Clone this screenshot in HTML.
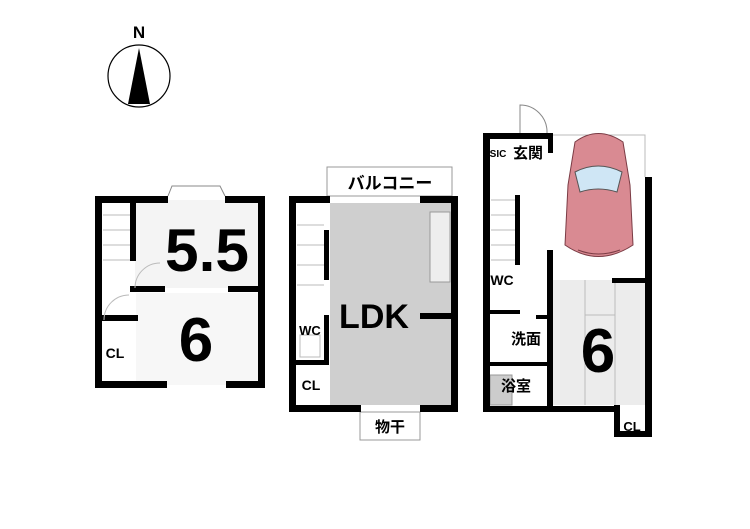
<!DOCTYPE html><html><head><style>body{margin:0;background:#fff}svg{display:block}</style></head><body>
<svg width="750" height="529" viewBox="0 0 750 529" xmlns="http://www.w3.org/2000/svg" font-family="Liberation Sans, Noto Sans CJK JP, sans-serif">
<rect width="750" height="529" fill="#fff"/>
<!-- compass -->
<text x="139" y="38" font-size="17" font-weight="bold" text-anchor="middle">N</text>
<circle cx="139" cy="76" r="31" fill="none" stroke="#000" stroke-width="1.2"/>
<polygon points="139,48 128,104 150,104" fill="#000"/>
<!-- LEFT PLAN -->
<path d="M168,196 L172,186 L220,186 L225,196" fill="#fff" stroke="#888"/>
<rect x="135" y="200" width="127" height="88" fill="#f4f4f4"/>
<rect x="136" y="293" width="126" height="92" fill="#f7f7f7"/>
<g fill="#000">
<rect x="95" y="196" width="7" height="192"/>
<rect x="258" y="196" width="7" height="192"/>
<rect x="95" y="196" width="73" height="7"/>
<rect x="225" y="196" width="40" height="7"/>
<rect x="95" y="381" width="72" height="7"/>
<rect x="226" y="381" width="39" height="7"/>
<rect x="130" y="203" width="6" height="58"/>
<rect x="130" y="286" width="35" height="6"/>
<rect x="228" y="286" width="37" height="6"/>
<rect x="95" y="315" width="43" height="6"/>
</g>
<g stroke="#bbb" fill="none"><path d="M103,215h27M103,230h27M103,245h27M103,260h27"/><path d="M135,288 A25,25 0 0 1 160,263"/><path d="M104,320 A25,25 0 0 1 129,295"/></g>
<text x="207" y="271" font-size="60" font-weight="bold" text-anchor="middle" textLength="84" lengthAdjust="spacingAndGlyphs">5.5</text>
<text x="196" y="361" font-size="62" font-weight="bold" text-anchor="middle">6</text>
<text x="115" y="358" font-size="14" font-weight="bold" text-anchor="middle">CL</text>
<!-- MIDDLE PLAN -->
<rect x="327" y="167" width="125" height="29" fill="#fff" stroke="#999"/>
<text x="390" y="189" font-size="17" font-weight="bold" text-anchor="middle">バルコニー</text>
<rect x="330" y="203" width="121" height="202" fill="#cfcfcf"/>
<rect x="430" y="212" width="20" height="70" fill="#eee" stroke="#999"/>
<rect x="360" y="412" width="60" height="28" fill="#fff" stroke="#999"/>
<text x="390" y="432" font-size="15" font-weight="bold" text-anchor="middle">物干</text>
<g fill="#000">
<rect x="289" y="196" width="7" height="216"/>
<rect x="451" y="196" width="7" height="216"/>
<rect x="289" y="196" width="41" height="7"/>
<rect x="420" y="196" width="38" height="7"/>
<rect x="289" y="405" width="72" height="7"/>
<rect x="420" y="405" width="38" height="7"/>
<rect x="324" y="230" width="5" height="50"/>
<rect x="324" y="315" width="5" height="48"/>
<rect x="289" y="360" width="40" height="5"/>
<rect x="420" y="313" width="31" height="6"/>
</g>
<g stroke="#bbb" fill="none"><path d="M297,225h27M297,245h27M297,265h27M297,285h27"/><path d="M300,335h20v22h-20z"/></g>
<text x="374" y="328" font-size="34" font-weight="bold" text-anchor="middle">LDK</text>
<text x="310" y="335" font-size="13" font-weight="bold" text-anchor="middle">WC</text>
<text x="311" y="390" font-size="14" font-weight="bold" text-anchor="middle">CL</text>
<!-- RIGHT PLAN -->
<path d="M520,133 L520,105 A27,27 0 0 1 547,133" fill="none" stroke="#888"/>
<polyline points="553,135 645,135 645,177" fill="none" stroke="#bbb"/>
<rect x="553" y="280" width="92" height="125" fill="#ececec"/>
<path d="M585,280v125M585,315h30M615,280v125" stroke="#bbb" fill="none"/>
<rect x="490" y="375" width="22" height="30" fill="#ccc" stroke="#999"/>
<g fill="#000">
<rect x="483" y="133" width="7" height="279"/>
<rect x="483" y="133" width="70" height="6"/>
<rect x="548" y="133" width="5" height="20"/>
<rect x="547" y="250" width="6" height="25"/>
<rect x="547" y="275" width="6" height="137"/>
<rect x="483" y="406" width="131" height="6"/>
<rect x="612" y="278" width="40" height="5"/>
<rect x="645" y="177" width="7" height="260"/>
<rect x="614" y="405" width="6" height="32"/>
<rect x="614" y="431" width="38" height="6"/>
<rect x="515" y="195" width="5" height="70"/>
<rect x="490" y="310" width="30" height="4"/>
<rect x="490" y="362" width="57" height="4"/>
<rect x="536" y="315" width="11" height="4"/>
</g>
<g stroke="#bbb" fill="none"><path d="M491,200h24M491,215h24M491,230h24M491,245h24M491,260h24"/></g>
<!-- car -->
<g>
<path d="M575,142 Q598,125 623,142 L630,185 L633,245 Q598,268 565,245 L568,185 Z" fill="#d98a92" stroke="#7a3b44"/>
<path d="M575,172 Q598,160 622,172 L617,192 Q598,186 580,192 Z" fill="#cfe6f5" stroke="#555"/>
<path d="M578,250 Q598,258 620,250" fill="none" stroke="#7a3b44"/>
</g>
<text x="498" y="157" font-size="10" font-weight="bold" text-anchor="middle">SIC</text>
<text x="528" y="158" font-size="15" font-weight="bold" text-anchor="middle">玄関</text>
<text x="502" y="285" font-size="14" font-weight="bold" text-anchor="middle">WC</text>
<text x="526" y="344" font-size="15" font-weight="bold" text-anchor="middle">洗面</text>
<text x="516" y="391" font-size="15" font-weight="bold" text-anchor="middle">浴室</text>
<text x="598" y="372" font-size="62" font-weight="bold" text-anchor="middle">6</text>
<text x="632" y="431" font-size="13" font-weight="bold" text-anchor="middle">CL</text>
</svg></body></html>
